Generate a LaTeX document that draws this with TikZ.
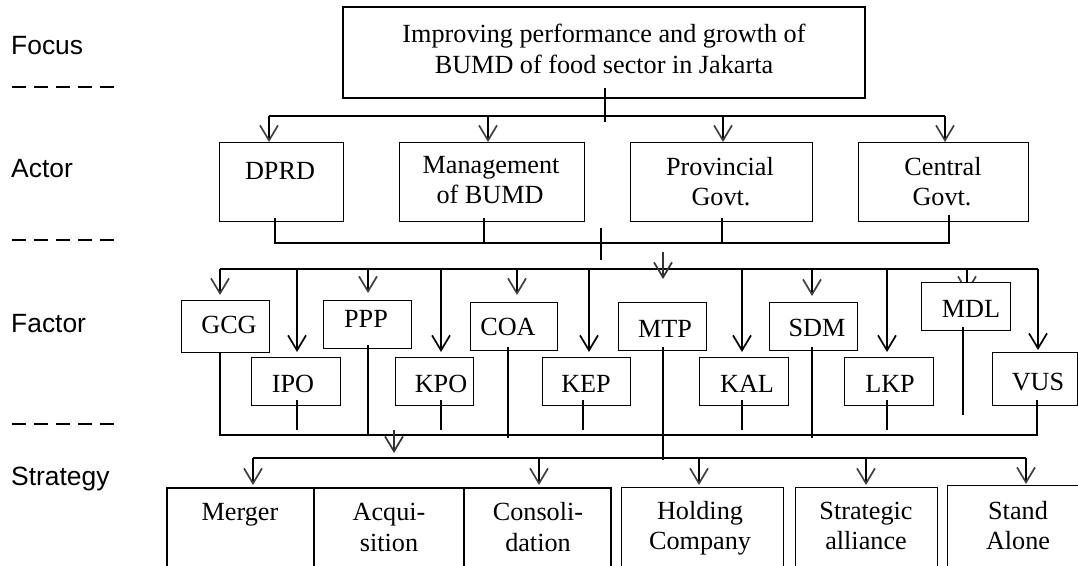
\documentclass[tikz,border=0pt]{standalone}
\usepackage{fontspec}
\setmainfont{Liberation Serif}
\newfontfamily\labfont{Liberation Sans}
\usetikzlibrary{arrows.meta}
\newcommand\mkbox[6][]{\node[box,#1,minimum width={(#5-#3)*1pt},minimum height={(#6-#4)*1pt}] (#2) at ({(#3+#5)/2},{(#4+#6)/2}) {};}
\begin{document}
\begin{tikzpicture}[x=1pt,y=-1pt,
 box/.style={draw,line width=1pt,inner sep=0pt,outer sep=0pt},
 conn/.style={line width=2pt},
 arr/.style={line width=2pt,-{Straight Barb[length=15pt,width=18pt,line width=1.7pt]}},
 garr/.style={line width=2pt,-{Straight Barb[length=15pt,width=18pt,line width=1.7pt,color=black!75]}},
 farr/.style={draw=black!80,line width=1.7pt,-{Straight Barb[length=15pt,width=18pt,line width=1.7pt]}},
 txt/.style={anchor=base,inner sep=0pt,font=\fontsize{26.2}{31}\selectfont},
 lab/.style={anchor=base west,inner sep=0pt,font=\labfont\fontsize{26.4}{31}\selectfont},
 dashline/.style={line width=1.2pt,dash pattern=on 14pt off 8pt}]
\useasboundingbox (0,0) rectangle (1078,565);
\clip (0,0) rectangle (1078,565);

% ---- level labels and separators
\node[lab] (lfocus) at (11,54) {Focus};
\node[lab] (lactor) at (11,177) {Actor};
\node[lab] (lfactor) at (11,332) {Factor};
\node[lab] (lstrat) at (11,485) {Strategy};
\coordinate (d1a) at (12,87);  \coordinate (d1b) at (114,87);
\coordinate (d2a) at (12,240); \coordinate (d2b) at (114,240);
\coordinate (d3a) at (12,424); \coordinate (d3b) at (114,424);
\draw[dashline] (d1a) -- (d1b);
\draw[dashline] (d2a) -- (d2b);
\draw[dashline] (d3a) -- (d3b);

% ---- coordinates of buses
\coordinate (fj) at (605,116);
\coordinate (a1) at (269,116); \coordinate (a2) at (488,116);
\coordinate (a3) at (723,116); \coordinate (a4) at (945,116);
\coordinate (c1) at (275,243); \coordinate (c2) at (484,243);
\coordinate (c3) at (722,243); \coordinate (c4) at (949,243);
\coordinate (cj) at (601,243);
\coordinate (u-gcg) at (220,269); \coordinate (u-ipo) at (297,269);
\coordinate (u-ppp) at (368,269); \coordinate (u-kpo) at (441,269);
\coordinate (u-coa) at (517,269); \coordinate (u-kep) at (589,269);
\coordinate (u-kal) at (742,269); \coordinate (u-sdm) at (812,269);
\coordinate (u-lkp) at (887,269); \coordinate (u-mdl) at (967,269);
\coordinate (u-vus) at (1038,269);
\coordinate (u-mtp) at (663,252);
\coordinate (b-gcg) at (220,435); \coordinate (b-ipo) at (297,435);
\coordinate (b-ppp) at (368,435); \coordinate (b-kpo) at (441,435);
\coordinate (b-coa) at (508,435); \coordinate (b-kep) at (583,435);
\coordinate (b-mtp) at (663,460); \coordinate (b-kal) at (742,435);
\coordinate (b-sdm) at (812,435); \coordinate (b-lkp) at (887,435);
\coordinate (b-mdl) at (963,435); \coordinate (b-vus) at (1037,435);
\coordinate (b-mid) at (394,435);
\coordinate (s-mer) at (253,458); \coordinate (s-con) at (539,458);
\coordinate (s-hol) at (699,458); \coordinate (s-str) at (866,458);
\coordinate (s-sta) at (1026,458);

% arrow hidden behind MDL box
\draw[garr] (u-mdl) -- ++(0,24);

% ---- focus
\mkbox[line width=1.5pt]{top}{343}{7}{865}{98}
\node[txt] (top1) at (604,42) {Improving performance and growth of};
\node[txt] (top2) at (604,73) {BUMD of food sector in Jakarta};

% ---- actors
\mkbox{dprd}{219}{142}{343}{221}
\mkbox{mgmt}{399}{142}{584}{221}
\mkbox{prov}{630}{142}{812}{221}
\mkbox{cent}{858}{142}{1028}{221}
\node[txt] (tdprd) at (280,179) {DPRD};
\node[txt] (tmgmt1) at (491,173) {Management};
\node[txt] (tmgmt2) at (490,203) {of BUMD};
\node[txt] (tprov1) at (720,175) {Provincial};
\node[txt] (tprov2) at (721,205) {Govt.};
\node[txt] (tcent1) at (943,175) {Central};
\node[txt] (tcent2) at (942,205) {Govt.};

% ---- factors
\mkbox{gcg}{181}{300}{269}{352}
\mkbox{ipo}{251}{357}{340}{405}
\mkbox{ppp}{323}{300}{411}{348}
\mkbox{kpo}{395}{357}{473}{405}
\mkbox{coa}{470}{302}{557}{350}
\mkbox{kep}{542}{357}{630}{405}
\mkbox{mtp}{618}{302}{706}{350}
\mkbox{kal}{699}{357}{788}{405}
\mkbox{sdm}{769}{302}{857}{350}
\mkbox{lkp}{844}{357}{933}{405}
\mkbox[fill=white]{mdl}{921}{282}{1010}{330}
\mkbox{vus}{992}{352}{1077}{405}
\node[txt] (tgcg) at (229,333) {GCG};
\node[txt] (tipo) at (293,392) {IPO};
\node[txt] (tppp) at (366,327) {PPP};
\node[txt] (tkpo) at (441,392) {KPO};
\node[txt] (tcoa) at (508,335) {COA};
\node[txt] (tkep) at (586,392) {KEP};
\node[txt] (tmtp) at (665,337) {MTP};
\node[txt] (tkal) at (747,392) {KAL};
\node[txt] (tsdm) at (817,336) {SDM};
\node[txt] (tlkp) at (890,392) {LKP};
\node[txt] (tmdl) at (971,317) {MDL};
\node[txt] (tvus) at (1038,390) {VUS};

% ---- strategies
\mkbox[line width=2pt]{merger}{167}{488}{314}{580}
\mkbox[line width=2pt]{acq}{314}{488}{464}{580}
\mkbox[line width=2pt]{cons}{464}{488}{611}{580}
\mkbox{hold}{621}{487}{783}{580}
\mkbox{strat}{795}{487}{937}{580}
\mkbox{stand}{947}{485}{1090}{580}
\node[txt] (tmer) at (240,520) {Merger};
\node[txt] (tacq1) at (389,520) {Acqui-};
\node[txt] (tacq2) at (389,551) {sition};
\node[txt] (tcon1) at (538,520) {Consoli-};
\node[txt] (tcon2) at (538,551) {dation};
\node[txt] (thol1) at (700,519) {Holding};
\node[txt] (thol2) at (700,549) {Company};
\node[txt] (tstr1) at (866,519) {Strategic};
\node[txt] (tstr2) at (866,549) {alliance};
\node[txt] (tsta1) at (1018,519) {Stand};
\node[txt] (tsta2) at (1018,549) {Alone};

% ---- focus -> actors
\draw[conn,shorten <=-10pt,shorten >=-6pt] (fj |- top.south) -- (fj);
\draw[conn] (a1) -- (a4);
\foreach \c/\n in {a1/dprd,a2/mgmt,a3/prov,a4/cent}
  \draw[garr] (\c) -- (\c |- \n.north);

% ---- actors -> factors
\draw[conn,shorten <=-3pt,shorten >=-6pt] (c1 |- dprd.south) -- (c1) -- (c4) -- (c4 |- cent.south);
\draw[conn,shorten <=-3pt] (c2 |- mgmt.south) -- (c2);
\draw[conn,shorten <=-3pt] (c3 |- prov.south) -- (c3);
\draw[conn] (cj) ++(0,-15) -- ++(0,32);
\draw[conn] (u-gcg) -- (u-vus);
\draw[farr] (u-mtp) -- ++(0,27);
\draw[garr,shorten >=5pt] (u-gcg) -- (u-gcg |- gcg.north);
\draw[arr,shorten >=5pt] (u-ipo) -- (u-ipo |- ipo.north);
\draw[garr,shorten >=7pt] (u-ppp) -- (u-ppp |- ppp.north);
\draw[arr,shorten >=5pt] (u-kpo) -- (u-kpo |- kpo.north);
\draw[garr,shorten >=7pt] (u-coa) -- (u-coa |- coa.north);
\draw[arr,shorten >=5pt] (u-kep) -- (u-kep |- kep.north);
\draw[arr,shorten >=5pt] (u-kal) -- (u-kal |- kal.north);
\draw[garr,shorten >=6pt] (u-sdm) -- (u-sdm |- sdm.north);
\draw[arr,shorten >=5pt] (u-lkp) -- (u-lkp |- lkp.north);
\draw[arr,shorten >=2pt] (u-vus) -- (u-vus |- vus.north);

% ---- factors -> strategies
\draw[conn,shorten >=-5pt] (b-gcg |- gcg.south) -- (b-gcg) -- (b-vus) -- (b-vus |- vus.south);
\draw[conn,shorten <=-5pt,shorten >=5pt] (b-ipo |- ipo.south) -- (b-ipo);
\draw[conn,shorten <=-3pt] (b-ppp |- ppp.south) -- (b-ppp);
\draw[conn,shorten <=-5pt,shorten >=5pt] (b-kpo |- kpo.south) -- (b-kpo);
\draw[conn,shorten <=-3pt,shorten >=-3pt] (b-coa |- coa.south) -- (b-coa);
\draw[conn,shorten <=-5pt,shorten >=5pt] (b-kep |- kep.south) -- (b-kep);
\draw[conn,shorten <=-3pt] (b-mtp |- mtp.south) -- (b-mtp);
\draw[conn,shorten <=-5pt,shorten >=5pt] (b-kal |- kal.south) -- (b-kal);
\draw[conn,shorten <=-3pt,shorten >=-3pt] (b-sdm |- sdm.south) -- (b-sdm);
\draw[conn,shorten <=-5pt,shorten >=5pt] (b-lkp |- lkp.south) -- (b-lkp);
\draw[conn,shorten <=-3pt,shorten >=20pt] (b-mdl |- mdl.south) -- (b-mdl);
\draw[farr] (b-mid) ++(0,-5) -- ++(0,23);
\draw[conn] (s-mer) -- (s-sta);
\draw[garr,shorten >=3pt] (s-mer) -- (s-mer |- merger.north);
\draw[garr,shorten >=3pt] (s-con) -- (s-con |- cons.north);
\draw[garr,shorten >=2pt] (s-hol) -- (s-hol |- hold.north);
\draw[garr,shorten >=2pt] (s-str) -- (s-str |- strat.north);
\draw[garr,shorten >=1pt] (s-sta) -- (s-sta |- stand.north);
\end{tikzpicture}
\end{document}
